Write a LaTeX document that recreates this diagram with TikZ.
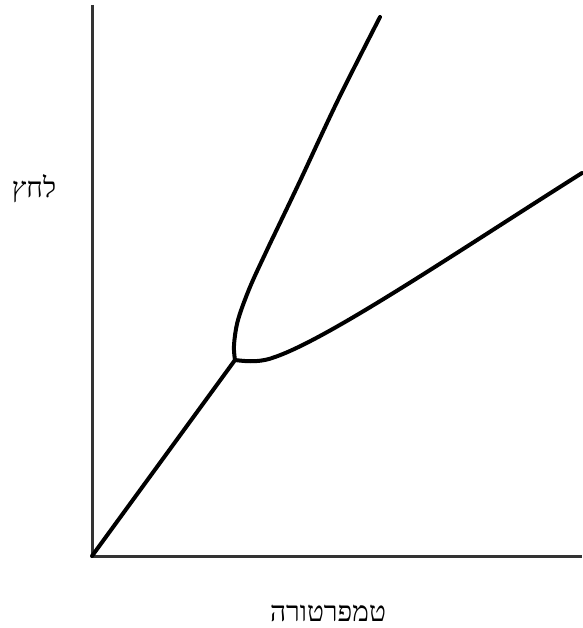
\documentclass[tikz,border=0pt]{standalone}
\usepackage{fontspec}
\newfontfamily\hebfont[Script=Hebrew]{Liberation Serif}
\TeXXeTstate=1
\begin{document}
\begin{tikzpicture}[x=1pt,y=-1pt,
  axis/.style={line width=3pt,draw=black!80},
  curve/.style={line width=4pt,draw=black,line cap=round,line join=round},
  lbl/.style={font=\hebfont\fontsize{28}{32}\selectfont,inner sep=0pt}]
\useasboundingbox (0,0) rectangle (582,628);
\coordinate (O) at (92,556);
\coordinate (ytop) at (92,5);
\coordinate (xend) at (582,556);
\coordinate (T) at (235,360);
\coordinate (A) at (380,17);
\coordinate (B) at (582,173);
\draw[axis] (ytop) -- (O) -- (xend);
\draw[curve] (O) -- (T);
\draw[curve] plot[smooth,tension=0.55] coordinates {(235,360) (234,345) (238,320) (250,287) (267,250) (278,227) (300,181) (338,100) (380,17)};
\draw[curve] (T) .. controls (250,362) and (262,362) .. (275,357)
  .. controls (330,338) and (460,250) .. (B);
\node[lbl] (ylab) at (34,189) {\beginR לחץ\endR};
\node[lbl] (xlab) at (328,613) {\beginR טמפרטורה\endR};
\end{tikzpicture}
\end{document}
